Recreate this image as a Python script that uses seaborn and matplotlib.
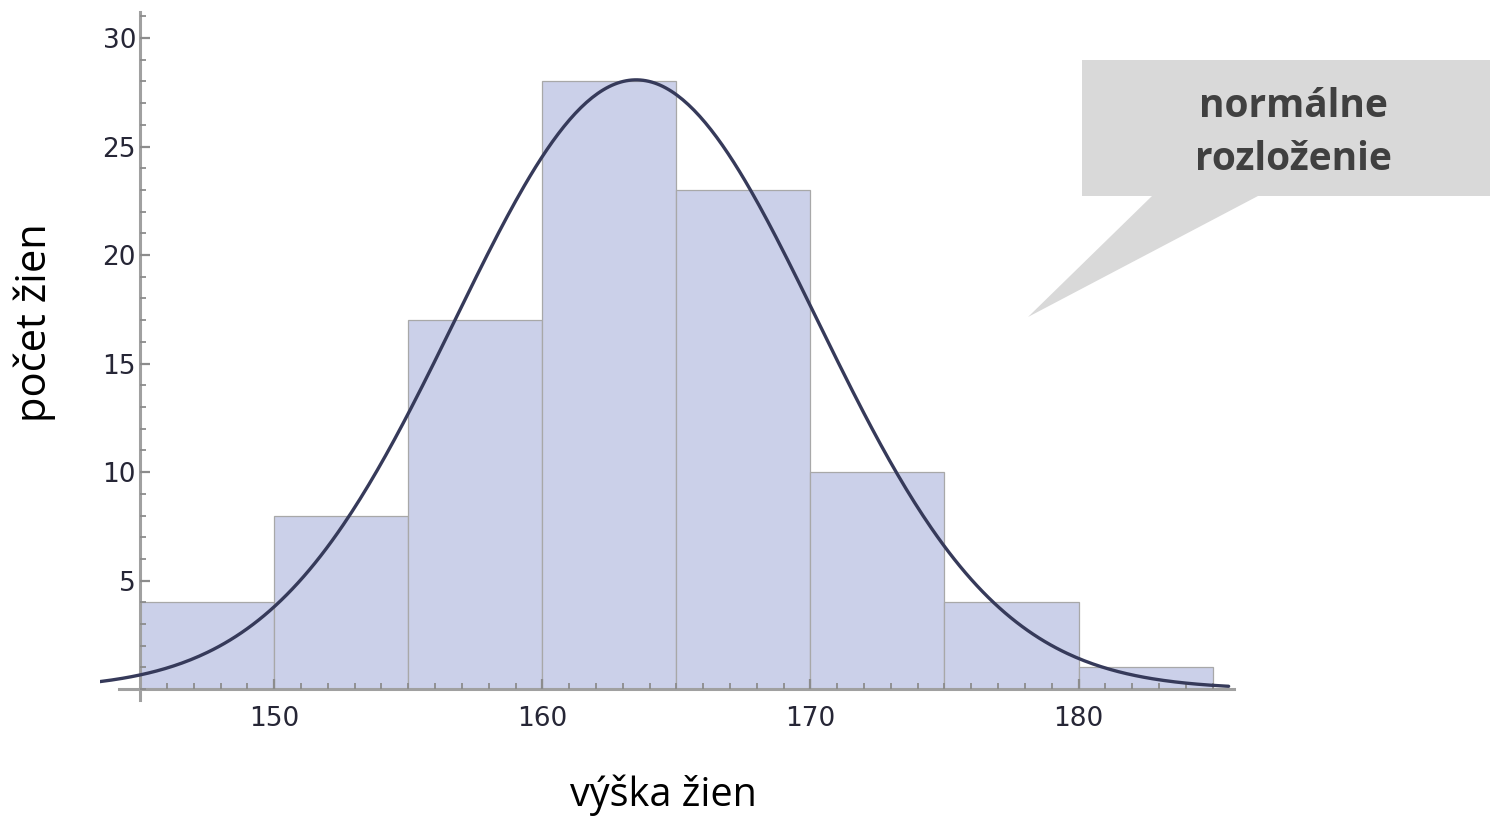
import numpy as np
import pandas as pd
import matplotlib
matplotlib.use("Agg")
import matplotlib.pyplot as plt
from matplotlib.patches import Polygon
from matplotlib.ticker import MultipleLocator, FixedLocator
import seaborn as sns

# ---- data ----
bin_edges = [145, 150, 155, 160, 165, 170, 175, 180, 185]
counts = [4, 8, 17, 28, 23, 10, 4, 1]
fit_mean = 163.5
fit_sd = 6.75
n_total = sum(counts)
bin_width = 5
x_ticks = [150, 160, 170, 180]
y_ticks = [5, 10, 15, 20, 25, 30]
x_label = "výška žien"
y_label = "počet žien"
callout_text = "normálne\nrozloženie"

sns.set_theme(style="white")
plt.rcParams['font.family'] = ['Open Sans', 'DejaVu Sans']

W, H = 1490, 818
fig = plt.figure(figsize=(W / 100, H / 100), dpi=100)
ax = fig.add_axes([100 / W, 1 - 700 / H, 1134 / W, 688 / H])

mids = [(a + b) / 2 for a, b in zip(bin_edges[:-1], bin_edges[1:])]
df = pd.DataFrame({"vyska": mids, "pocet": counts})
sns.histplot(data=df, x="vyska", weights="pocet", bins=bin_edges, ax=ax,
             color="#cbd0e9", alpha=1.0, edgecolor="#a8a8a8", linewidth=0.9)

xs = np.linspace(143.5, 185.6, 400)
ys = n_total * bin_width * np.exp(-0.5 * ((xs - fit_mean) / fit_sd) ** 2) / (fit_sd * np.sqrt(2 * np.pi))
sns.lineplot(x=xs, y=ys, ax=ax, color="#363a5a", linewidth=2.4)
ax.lines[-1].set_zorder(4)

ax.set_axisbelow(False)
ax.set_xlim(143.5, 185.8)
ax.set_ylim(-0.5, 31.2)
for s in ["top", "right"]:
    ax.spines[s].set_visible(False)
ax.spines["left"].set_position(("data", 145))
ax.spines["bottom"].set_position(("data", 0))
ax.spines["left"].set_bounds(-0.5, 31.2)
ax.spines["bottom"].set_bounds(144.2, 185.8)
for s in ["left", "bottom"]:
    ax.spines[s].set_color("#a0a0a0")
    ax.spines[s].set_linewidth(2.2)

ax.set_xticks(x_ticks)
ax.set_yticks(y_ticks)
ax.xaxis.set_minor_locator(FixedLocator(list(range(146, 186))))
ax.yaxis.set_minor_locator(MultipleLocator(1))
ax.tick_params(axis="both", which="both", bottom=True, left=True,
               top=False, right=False)
ax.tick_params(axis="both", which="major", direction="in", length=7, width=1.6,
               color="#8c8c8c", labelsize=19, labelcolor="#262636")
ax.tick_params(axis="both", which="minor", direction="in", length=4, width=1.3,
               color="#8c8c8c")
ax.tick_params(axis="x", which="major", pad=12)
ax.tick_params(axis="y", which="major", pad=3)
ax.set_xlabel("")
ax.set_ylabel("")
for lab in ax.get_xticklabels() + ax.get_yticklabels():
    lab.set_family(["DejaVu Sans"])

fig.text(663 / W, 1 - 806 / H, x_label, ha="center", va="baseline",
         fontsize=28.5, color="black")
fig.text(35 / W, 1 - 323 / H, y_label, ha="center", va="center",
         rotation=90, fontsize=30, color="black")

pts = [(1082, 60), (1490, 60), (1490, 196), (1258, 196), (1028, 317),
       (1152, 196), (1082, 196)]
poly = Polygon([(x / W, 1 - y / H) for x, y in pts], closed=True,
               transform=fig.transFigure, facecolor="#d9d9d9",
               edgecolor="none", zorder=5)
fig.patches.append(poly)
fig.text(1293 / W, 1 - 133 / H, callout_text, ha="center", va="center",
         fontsize=28, fontweight="bold", color="#404040",
         linespacing=1.45, zorder=6)

fig.savefig("out.png", dpi=100)
